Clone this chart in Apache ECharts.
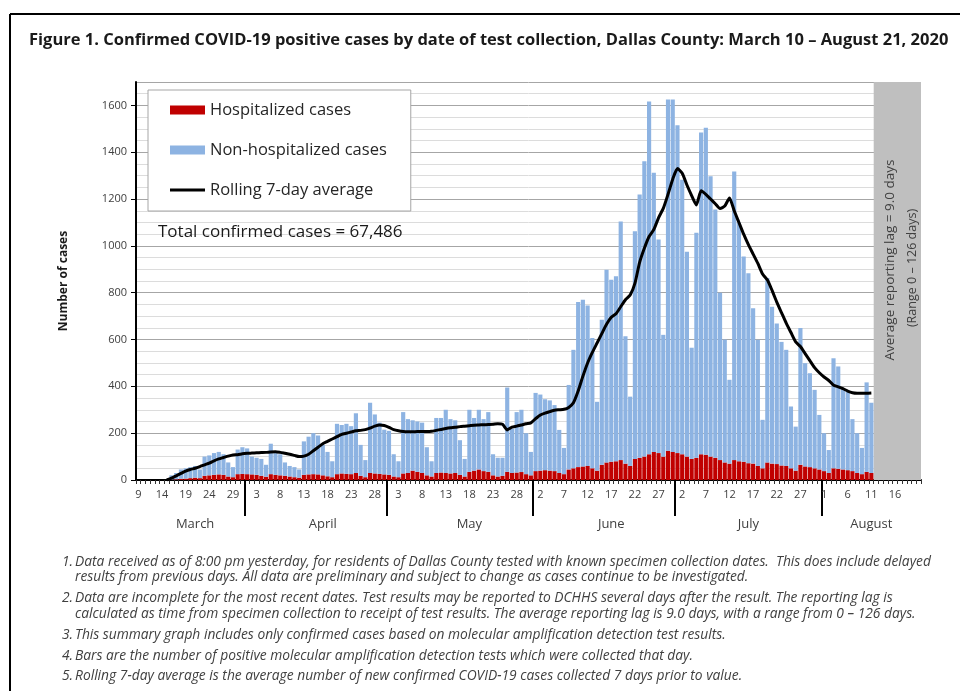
<!DOCTYPE html>
<html>
<head>
<meta charset="utf-8">
<script src="https://cdn.jsdelivr.net/npm/echarts@6.0.0/dist/echarts.min.js"></script>
<style>
html,body{margin:0;padding:0;background:#fff;}
#chart{width:960px;height:691px;}
</style>
</head>
<body>
<div id="chart"></div>
<script>
// ---- categories: one per day, March 9 – August 21, 2020
const monthNames = ['March', 'April', 'May', 'June', 'July', 'August'];
const monthFirstDay = [9, 1, 1, 1, 1, 1];
const monthLastDay = [31, 30, 31, 30, 31, 21];
const categories = [];
monthNames.forEach(function (m, i) {
  for (let d = monthFirstDay[i]; d <= monthLastDay[i]; d++) categories.push(m + ' ' + d);
});
// where the month names are written under the day labels
const monthLabelAt = ['March 21', 'April 17', 'May 18', 'June 17', 'July 16', 'August 11'];
// month separators (first day of each month after March)
const monthStarts = ['April 1', 'May 1', 'June 1', 'July 1', 'August 1'];

// ---- series values
const hospitalized = [
  0, 0, 0, 0, 0, 0, 0,
  2, 3, 5, 6, 8, 10, 8,
  18, 20, 22, 24, 22, 15, 12,
  25, 26, 25, 24, 22, 18, 14,
  25, 22, 20, 18, 15, 12, 10,
  22, 24, 25, 24, 20, 16, 12,
  25, 28, 26, 25, 30, 18, 12,
  30, 28, 26, 24, 22, 15, 12,
  28, 30, 40, 35, 30, 20, 15,
  30, 32, 30, 28, 30, 22, 15,
  35, 40, 45, 38, 35, 20, 15,
  18, 35, 30, 32, 34, 25, 20,
  38, 40, 42, 40, 38, 30, 25,
  45, 50, 55, 58, 60, 50, 40,
  65, 75, 78, 80, 85, 70, 60,
  90, 95, 100, 110, 120, 115, 100,
  125, 120, 115, 110, 100, 90, 95,
  110, 108, 100, 95, 85, 75, 70,
  85, 80, 78, 72, 70, 60, 50,
  75, 70, 68, 62, 60, 50, 40,
  65, 58, 55, 50, 45, 38, 30,
  50, 48, 45, 42, 38, 30, 25,
  35, 30,
  null, null, null, null, null, null, null, null, null, null
];
const nonHospitalized = [
  0, 0, 0, 0, 0, 0, 0,
  18, 27, 40, 44, 47, 50, 37,
  82, 85, 93, 96, 88, 60, 43,
  105, 114, 110, 76, 73, 72, 51,
  130, 93, 90, 57, 45, 43, 35,
  143, 161, 175, 166, 130, 104, 68,
  215, 207, 214, 205, 255, 132, 73,
  300, 252, 219, 191, 188, 95, 68,
  262, 230, 215, 215, 215, 120, 65,
  235, 233, 270, 232, 225, 148, 75,
  265, 225, 255, 222, 255, 90, 80,
  77, 360, 190, 258, 266, 175, 100,
  334, 325, 303, 300, 282, 184, 112,
  361, 506, 705, 712, 685, 557, 294,
  619, 823, 777, 790, 1019, 544, 296,
  972, 1124, 1261, 1507, 1192, 912, 520,
  1500, 1505, 1400, 1173, 875, 475, 961,
  1374, 1397, 1197, 1060, 715, 525, 358,
  1233, 1019, 877, 811, 664, 539, 207,
  788, 670, 600, 528, 496, 264, 188,
  584, 441, 401, 335, 233, 162, 98,
  470, 437, 345, 338, 222, 170, 112,
  382, 300,
  null, null, null, null, null, null, null, null, null, null
];
const rollingAverage = [
  null, null, null, null, null, null, 0,
  8, 18, 28, 38, 45, 50, 57,
  65, 72, 82, 90, 96, 102, 107,
  108, 112, 114, 115, 116, 117, 118,
  120, 121, 118, 114, 110, 105, 100,
  102, 110, 125, 140, 155, 165, 175,
  185, 195, 200, 205, 210, 212, 215,
  222, 230, 235, 233, 225, 215, 210,
  207, 206, 206, 207, 207, 207, 208,
  212, 216, 220, 223, 225, 228, 230,
  232, 234, 235, 236, 237, 238, 240,
  238, 214, 226, 230, 235, 240, 244,
  262, 278, 286, 292, 298, 300, 302,
  310, 330, 380, 443, 500, 545, 585,
  625, 665, 695, 710, 740, 770, 790,
  840, 930, 990, 1040, 1070, 1120, 1160,
  1220, 1285, 1330, 1310, 1260, 1215, 1175,
  1235, 1220, 1200, 1180, 1160, 1170, 1205,
  1150, 1100, 1050, 1005, 965, 925, 880,
  855, 810, 760, 715, 670, 630, 590,
  570, 540, 510, 480, 458, 440, 425,
  405, 398, 390, 380, 373, 371, 371,
  371, 372,
  null, null, null, null, null, null, null, null, null, null
];
const lagPeriod = ['August 12', 'August 21'];
const totalText = 'Total confirmed cases = 67,486';
const footnotes = [
  ['1.', 'Data received as of 8:00 pm yesterday, for residents of Dallas County tested with known specimen collection dates.  This does include delayed'],
  ['', 'results from previous days. All data are preliminary and subject to change as cases continue to be investigated.'],
  ['2.', 'Data are incomplete for the most recent dates. Test results may be reported to DCHHS several days after the result. The reporting lag is'],
  ['', 'calculated as time from specimen collection to receipt of test results. The average reporting lag is 9.0 days, with a range from 0 \u2013 126 days.'],
  ['3.', 'This summary graph includes only confirmed cases based on molecular amplification detection test results.'],
  ['4.', 'Bars are the number of positive molecular amplification detection tests which were collected that day.'],
  ['5.', 'Rolling 7-day average is the average number of new confirmed COVID-19 cases collected 7 days prior to value.']
];
const footnoteY = [562, 577, 598, 614, 635, 656, 676];

const FONT = '"Open Sans", Roboto, sans-serif';
const chart = echarts.init(document.getElementById('chart'), null, {renderer: 'canvas'});

const graphics = [
  {type: 'line', z: 100, shape: {x1: 10, y1: 14, x2: 960, y2: 14}, style: {stroke: '#000', lineWidth: 2}},
  {type: 'line', z: 100, shape: {x1: 10, y1: 14, x2: 10, y2: 691}, style: {stroke: '#000', lineWidth: 2}},
  {type: 'text', z: 100, x: 158, y: 232, style: {text: totalText, font: '17px ' + FONT, fill: '#1a1a1a', textVerticalAlign: 'middle'}},
  {type: 'text', z: 100, x: 890, y: 260, rotation: Math.PI / 2, style: {text: 'Average reporting lag = 9.0 days', font: '13.5px ' + FONT, fill: '#404040', textAlign: 'center', textVerticalAlign: 'middle'}},
  {type: 'text', z: 100, x: 912, y: 268, rotation: Math.PI / 2, style: {text: '(Range 0 \u2013 126 days)', font: '12.5px ' + FONT, fill: '#404040', textAlign: 'center', textVerticalAlign: 'middle'}}
];
footnotes.forEach(function (f, i) {
  if (f[0]) graphics.push({type: 'text', z: 100, x: 62, y: footnoteY[i], style: {text: f[0], font: 'italic 13.8px ' + FONT, fill: '#404040', textVerticalAlign: 'middle'}});
  graphics.push({type: 'text', z: 100, x: 75, y: footnoteY[i], style: {text: f[1], font: 'italic 13.8px ' + FONT, fill: '#404040', textVerticalAlign: 'middle'}});
});

const monthStartIdx = monthStarts.map(function (d) { return categories.indexOf(d); });
const monthLabelIdx = monthLabelAt.map(function (d) { return categories.indexOf(d) + 0.5; });

const option = {
  animation: false,
  backgroundColor: '#fff',
  title: {
    text: 'Figure 1. Confirmed COVID-19 positive cases by date of test collection, Dallas County: March 10 \u2013 August 21, 2020',
    left: 24, top: 27,
    textStyle: {fontFamily: FONT, fontWeight: 'bold', fontSize: 16.5, color: '#1a1a1a'}
  },
  legend: {
    left: 148, top: 90,
    orient: 'vertical',
    itemWidth: 35, itemHeight: 9, itemGap: 20,
    padding: [10, 24, 11, 22],
    symbolKeepAspect: true,
    backgroundColor: '#fff',
    borderColor: '#a6a6a6', borderWidth: 1,
    textStyle: {fontFamily: FONT, fontSize: 16.5, color: '#262626', lineHeight: 20},
    data: [
      {name: 'Hospitalized cases', icon: 'rect'},
      {name: 'Non-hospitalized cases', icon: 'rect'},
      {name: 'Rolling 7-day average', icon: 'path://M0,0 H36 V3 H0 Z'}
    ]
  },
  grid: {left: 136, right: 39, top: 82, bottom: 211, containLabel: false},
  xAxis: [
    {
      type: 'category', data: categories, boundaryGap: true,
      axisLine: {lineStyle: {color: '#000', width: 2}},
      axisTick: {show: true, interval: 0, length: 4, lineStyle: {color: '#333', width: 1}},
      axisLabel: {
        margin: 9, fontFamily: FONT, fontSize: 11, color: '#404040',
        interval: function (i) { return i % 5 === 0 && i < categories.length - 1; },
        formatter: function (v) { return v.split(' ')[1]; }
      },
      splitLine: {show: false}
    },
    {
      type: 'value', min: 0, max: categories.length, position: 'bottom', offset: 0,
      axisLine: {show: false},
      axisTick: {show: true, length: 36, lineStyle: {color: '#000', width: 2}, customValues: monthStartIdx},
      axisLabel: {
        margin: 38, fontFamily: FONT, fontSize: 13, color: '#404040',
        customValues: monthLabelIdx,
        formatter: function (v) {
          const k = monthLabelIdx.indexOf(v);
          return k >= 0 ? monthNames[k] : '';
        }
      },
      splitLine: {show: false}
    }
  ],
  yAxis: {
    type: 'value', min: 0, max: 1700, interval: 200,
    name: 'Number of cases', nameLocation: 'middle', nameGap: 66, nameRotate: 90,
    nameTextStyle: {fontFamily: FONT, fontWeight: 'bold', fontSize: 12, color: '#1a1a1a'},
    axisLine: {show: true, lineStyle: {color: '#000', width: 2}},
    axisTick: {show: true, length: 5, lineStyle: {color: '#000'}},
    axisLabel: {
      showMaxLabel: false, fontFamily: FONT, fontSize: 11, color: '#404040', margin: 9,
      formatter: function (v) { return String(v); }
    },
    splitLine: {show: true, lineStyle: {color: '#a6a6a6', width: 1}},
    minorTick: {show: false, splitNumber: 4},
    minorSplitLine: {show: true, lineStyle: {color: '#dcdcdc', width: 1}}
  },
  series: [
    {
      name: 'Hospitalized cases', type: 'bar', stack: 'cases', data: hospitalized,
      barCategoryGap: '12%', itemStyle: {color: '#c00000'},
      markArea: {
        silent: true, itemStyle: {color: '#bfbfbf'},
        data: [[{xAxis: lagPeriod[0]}, {xAxis: lagPeriod[1]}]]
      }
    },
    {
      name: 'Non-hospitalized cases', type: 'bar', stack: 'cases', data: nonHospitalized,
      barCategoryGap: '12%', itemStyle: {color: '#8db3e2'}
    },
    {
      name: 'Rolling 7-day average', type: 'line', data: rollingAverage,
      symbol: 'none', smooth: 0.2, z: 5,
      lineStyle: {color: '#000', width: 3}, itemStyle: {color: '#000'}
    }
  ],
  graphic: graphics
};
chart.setOption(option);
</script>
</body>
</html>
